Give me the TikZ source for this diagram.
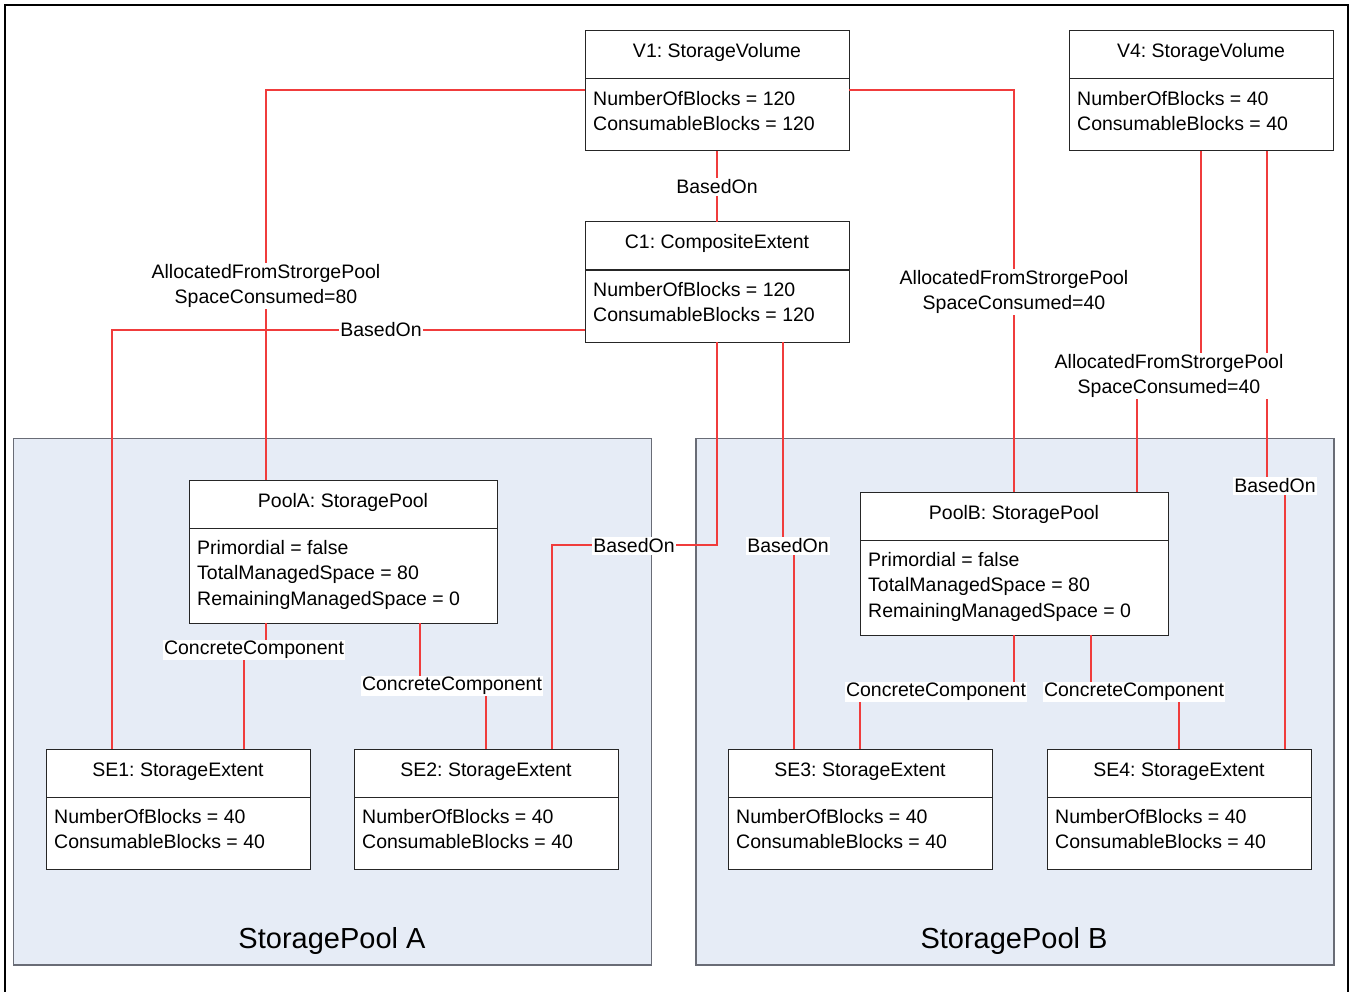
\documentclass[tikz,border=0pt]{standalone}
\usepackage{fontspec}
\setmainfont{Liberation Sans}
\frenchspacing
\definecolor{conred}{RGB}{240,60,60}
\definecolor{poolfill}{RGB}{230,236,246}
\definecolor{poolline}{RGB}{105,108,118}
\tikzset{
  cbox/.style={draw=black!85, fill=white, line width=1pt, inner sep=0pt, outer sep=0pt},
  cline/.style={draw=black!85, line width=1pt},
  ttl/.style={inner sep=0pt, font=\fontsize{19.5}{25.5}\selectfont},
  bodytext/.style={inner sep=0pt, align=left, font=\fontsize{19.5}{25.5}\selectfont},
  conn/.style={draw=conred, line width=1.1pt},
  lbl/.style={fill=white, inner sep=1.5pt, align=center, font=\fontsize{19.5}{25}\selectfont},
  poolbox/.style={draw=poolline, fill=poolfill, line width=1.5pt},
  pooltitle/.style={inner sep=0pt, font=\fontsize{29}{34}\selectfont},
}
\newcommand\umlclass[7]{%
  \node[cbox, minimum width=#4pt, minimum height=#5pt, anchor=north west] (#1) at (#2,#3) {};
  \draw[cline] ([yshift=-48pt]#1.north west) -- ([yshift=-48pt]#1.north east);
  \node[ttl, anchor=base] (#1-t) at ([yshift=-27pt]#1.north) {#6};
  \node[bodytext, anchor=north west] (#1-b) at ([xshift=8pt,yshift=-60pt]#1.north west) {#7};
}
\begin{document}
\begin{tikzpicture}[x=1pt,y=-1pt]
\useasboundingbox[fill=white] (0,0) rectangle (1351,992);
% outer frame
\draw[line width=2.5pt, black] (5,992) -- (5,5) -- (1348,5) -- (1348,992);
% pool regions
\node[poolbox, minimum width=638pt, minimum height=526.5pt, anchor=north west, inner sep=0pt] (regA) at (12.5,437.5) {};
\node[poolbox, minimum width=638pt, minimum height=526.5pt, anchor=north west, inner sep=0pt] (regB) at (695,437.5) {};
\node[pooltitle] (regA-t) at (332,941) {StoragePool A};
\node[pooltitle] (regB-t) at (1014,941) {StoragePool B};

% class boxes
\umlclass{v1}{585}{31}{264}{120}{V1: StorageVolume}{NumberOfBlocks = 120\\ConsumableBlocks = 120}
\umlclass{c1}{585}{222}{264}{120}{C1: CompositeExtent}{NumberOfBlocks = 120\\ConsumableBlocks = 120}
\umlclass{v4}{1069}{31}{264}{120}{V4: StorageVolume}{NumberOfBlocks = 40\\ConsumableBlocks = 40}
\umlclass{poolA}{189}{480}{308}{143}{PoolA: StoragePool}{Primordial = false\\TotalManagedSpace = 80\\RemainingManagedSpace = 0}
\umlclass{poolB}{860}{492}{308}{143}{PoolB: StoragePool}{Primordial = false\\TotalManagedSpace = 80\\RemainingManagedSpace = 0}
\umlclass{se1}{46}{749}{264}{120}{SE1: StorageExtent}{NumberOfBlocks = 40\\ConsumableBlocks = 40}
\umlclass{se2}{354}{749}{264}{120}{SE2: StorageExtent}{NumberOfBlocks = 40\\ConsumableBlocks = 40}
\umlclass{se3}{728}{749}{264}{120}{SE3: StorageExtent}{NumberOfBlocks = 40\\ConsumableBlocks = 40}
\umlclass{se4}{1047}{749}{264}{120}{SE4: StorageExtent}{NumberOfBlocks = 40\\ConsumableBlocks = 40}

% connectors
\draw[conn] (v1.south) -- (c1.north);
\draw[conn] (v1.west |- 0,90) -| (poolA.north -| 266,0);
\draw[conn] (c1.west |- 0,330) -| (se1.north -| 112,0);
\draw[conn] (v1.east |- 0,90) -| (poolB.north -| 1014,0);
\draw[conn] (v4.south -| 1201,0) -- (1201,374) -- (1137,374) -- (poolB.north -| 1137,0);
\draw[conn] (v4.south -| 1267,0) -- (1267,485) -- (1285,485) -- (se4.north -| 1285,0);
\draw[conn] (c1.south) |- (552,545) -- (se2.north -| 552,0);
\draw[conn] (c1.south -| 783,0) -- (783,545) -- (794,545) -- (se3.north -| 794,0);
\draw[conn] (poolA.south -| 266,0) -- (266,649) -- (244,649) -- (se1.north -| 244,0);
\draw[conn] (poolA.south -| 420,0) -- (420,685) -- (486,685) -- (se2.north -| 486,0);
\draw[conn] (poolB.south -| 1014,0) -- (1014,691) -- (860,691) -- (se3.north -| 860,0);
\draw[conn] (poolB.south -| 1091,0) -- (1091,691) -- (1179,691) -- (se4.north -| 1179,0);

% labels
\node[lbl] (l1) at (717,187) {BasedOn};
\node[lbl] (l2) at (266,286) {AllocatedFromStrorgePool\\SpaceConsumed=80};
\node[lbl] (l3) at (381,330) {BasedOn};
\node[lbl] (l4) at (1014,292) {AllocatedFromStrorgePool\\SpaceConsumed=40};
\node[lbl] (l5) at (1169,376) {AllocatedFromStrorgePool\\SpaceConsumed=40};
\node[lbl] (l6) at (1275,486) {BasedOn};
\node[lbl] (l7) at (634,546) {BasedOn};
\node[lbl] (l8) at (788,546) {BasedOn};
\node[lbl] (l9) at (254,650) {ConcreteComponent};
\node[lbl] (l10) at (452,686) {ConcreteComponent};
\node[lbl] (l11) at (936,692) {ConcreteComponent};
\node[lbl] (l12) at (1134,692) {ConcreteComponent};
\end{tikzpicture}
\end{document}
